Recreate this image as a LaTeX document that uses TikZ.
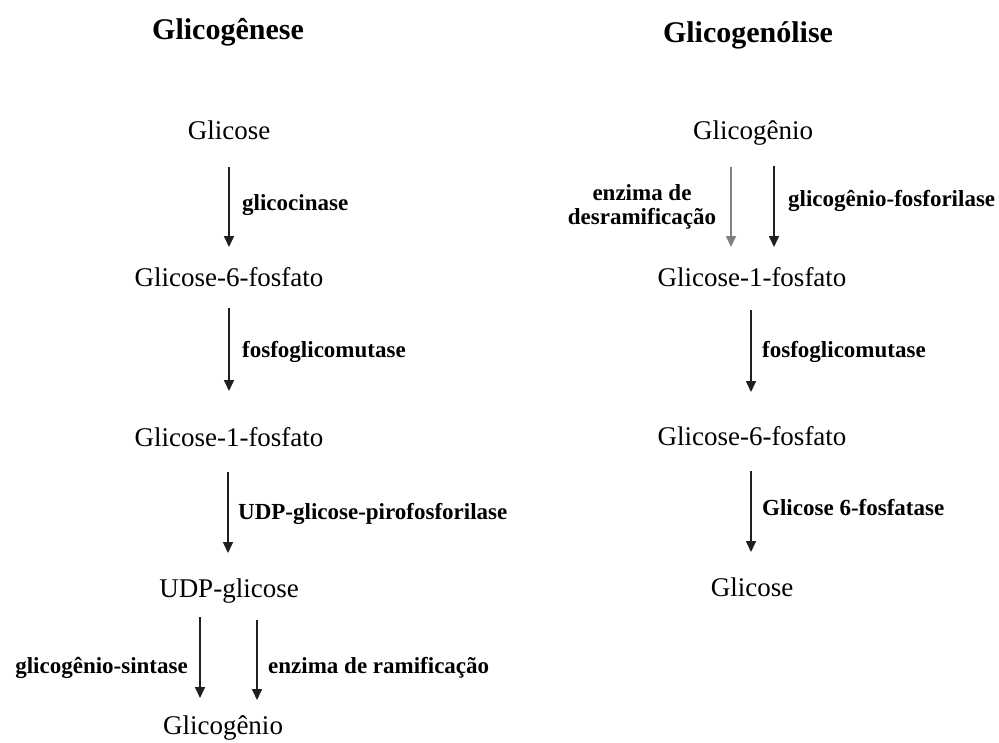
\documentclass[tikz,border=0pt]{standalone}
\usepackage{fontspec}
\setmainfont{Liberation Serif}
\usepackage{tikz}
\usetikzlibrary{arrows.meta,positioning,calc}

\begin{document}
\begin{tikzpicture}[x=1pt, y=-1pt, >={Triangle[width=10pt,length=11pt]}]
\tikzstyle{mol}=[inner sep=0pt, anchor=base, font=\fontsize{27}{30}\selectfont]
\tikzstyle{ttl}=[inner sep=0pt, anchor=base, font=\fontsize{30}{33}\selectfont\bfseries]
\tikzstyle{enz}=[inner sep=0pt, anchor=base west, font=\fontsize{23}{27}\selectfont\bfseries]
\tikzstyle{arr}=[->, line width=1.6pt, draw=black!88]
\clip (0,0) rectangle (999,742);
\fill[white] (0,0) rectangle (999,742);

% Glicogenese
\node[ttl] (tA) at (228,39) {Glicogênese};
\node[mol] (glcA) at (229,139) {Glicose};
\node[mol] (g6pA) at (229,286) {Glicose-6-fosfato};
\node[mol] (g1pA) at (229,446) {Glicose-1-fosfato};
\node[mol] (udpA) at (229,597) {UDP-glicose};
\node[mol] (glgA) at (223,734) {Glicogênio};

\node[enz] (e1) at (242,210) {glicocinase};
\node[enz] (e2) at (242,357) {fosfoglicomutase};
\node[enz] (e3) at (238,519) {UDP-glicose-pirofosforilase};
\node[enz, anchor=base east] (e4) at (188,673) {glicogênio-sintase};
\node[enz] (e5) at (268,673) {enzima de ramificação};

\draw[arr] ($(glcA.base)+(0,28)$) -- ($(g6pA.base)+(0,-39)$);
\draw[arr] ($(g6pA.base)+(0,22)$) -- ($(g1pA.base)+(0,-55)$);
\draw[arr] ($(g1pA.base)+(-1,26)$) -- ($(udpA.base)+(-1,-44)$);
\draw[arr] ($(udpA.base)+(-29,20)$) -- ($(glgA.base)+(-23,-36)$);
\draw[arr] ($(udpA.base)+(28,23)$) -- ($(glgA.base)+(34,-34)$);

% Glicogenolise
\node[ttl] (tB) at (748,42) {Glicogenólise};
\node[mol] (glgB) at (753,139) {Glicogênio};
\node[mol] (g1pB) at (752,286) {Glicose-1-fosfato};
\node[mol] (g6pB) at (752,445) {Glicose-6-fosfato};
\node[mol] (glcB) at (752,596) {Glicose};

\node[enz, anchor=center, align=center] (e6) at (642,207) {enzima de\\[-3pt]desramificação};
\node[enz] (e7) at (788,206) {glicogênio-fosforilase};
\node[enz] (e8) at (762,357) {fosfoglicomutase};
\node[enz] (e9) at (762,515) {Glicose 6-fosfatase};

\draw[arr, draw=black!50] ($(glgB.base)+(-22,28)$) -- ($(g1pB.base)+(-21,-39)$);
\draw[arr] ($(glgB.base)+(21,27)$) -- ($(g1pB.base)+(22,-39)$);
\draw[arr] ($(g1pB.base)+(-1,24)$) -- ($(g6pB.base)+(-1,-53)$);
\draw[arr] ($(g6pB.base)+(-1,26)$) -- ($(glcB.base)+(-1,-44)$);
\end{tikzpicture}
\end{document}
